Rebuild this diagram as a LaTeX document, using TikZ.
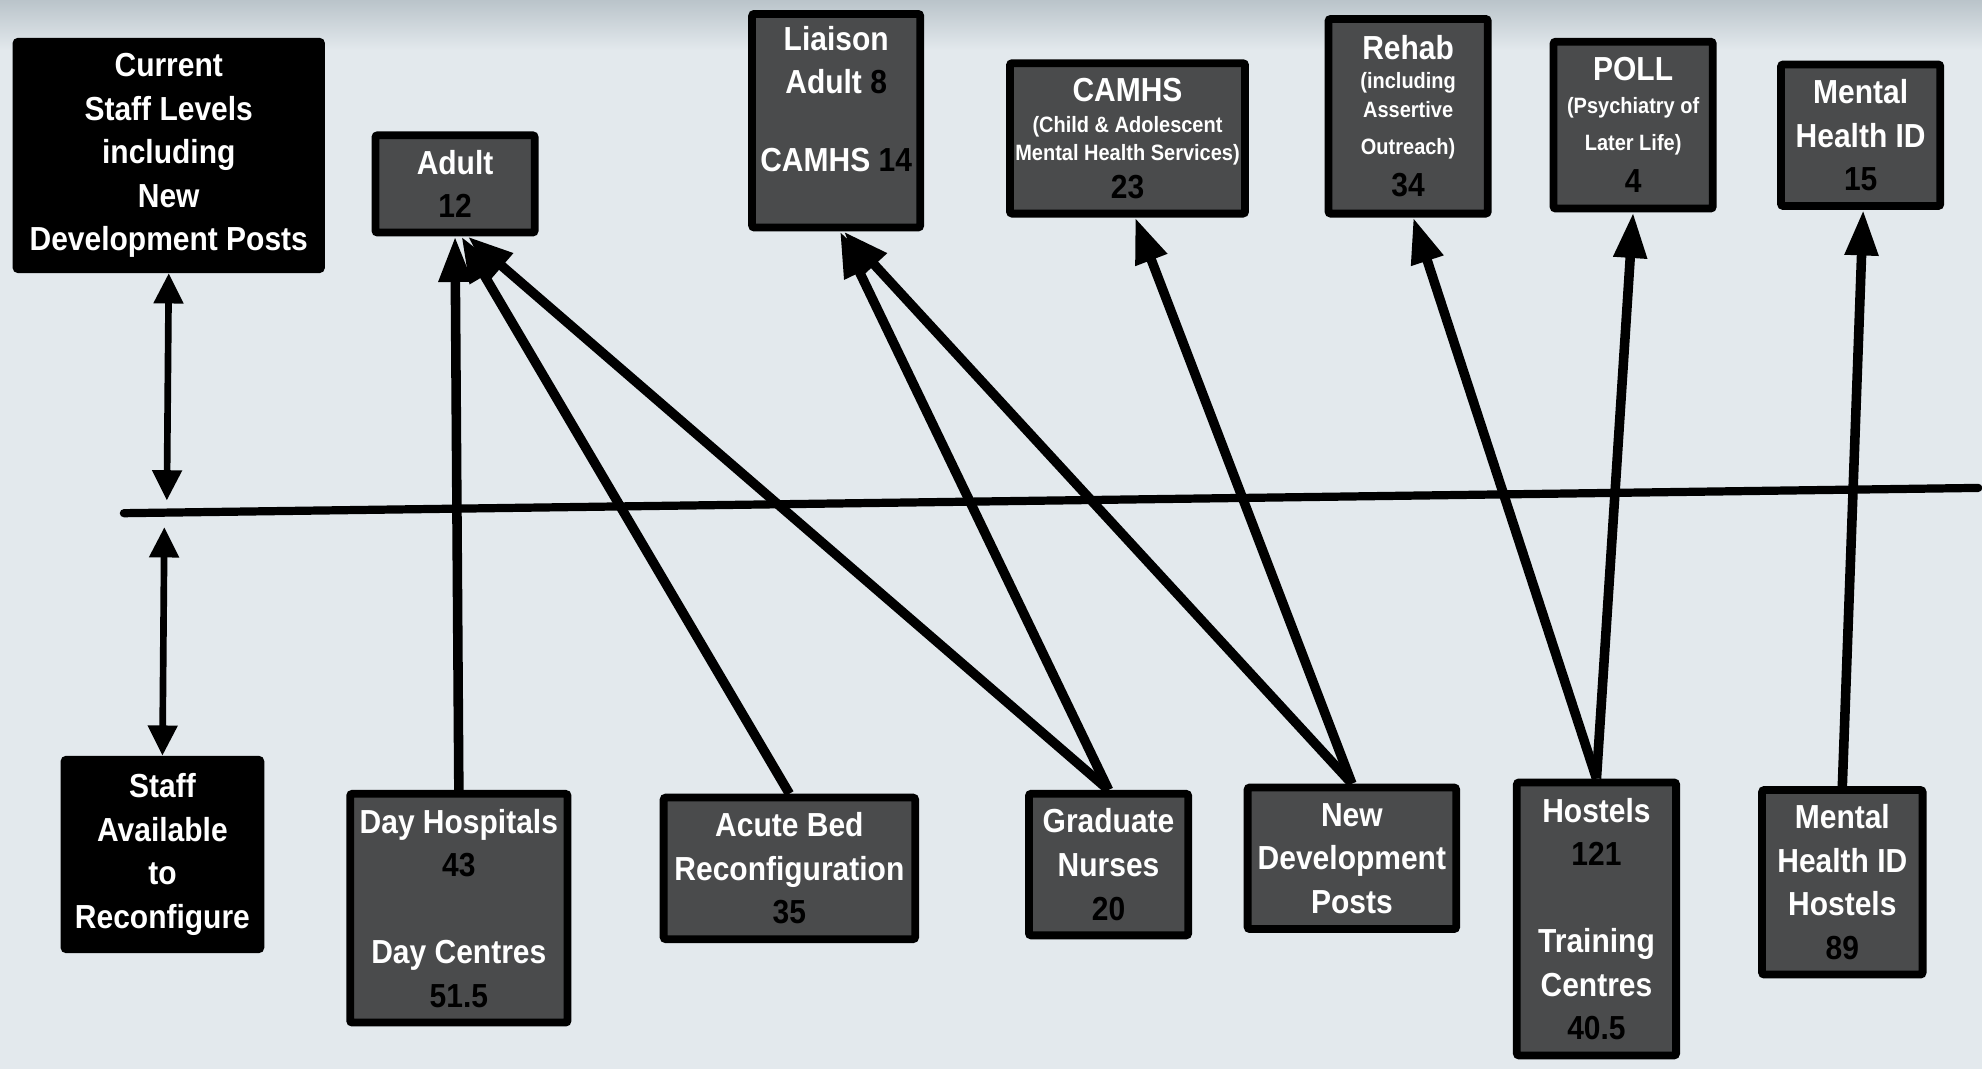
\documentclass[tikz,border=0pt]{standalone}
\usepackage{fontspec}
\setmainfont{Liberation Sans}[FakeStretch=0.9]
\usetikzlibrary{arrows.meta}
\definecolor{slidebg}{RGB}{227,233,237}
\definecolor{slidetop}{RGB}{186,196,202}
\definecolor{boxgrey}{RGB}{74,75,76}
\newcommand\bigtxt{\fontsize{15}{19.6}\selectfont\bfseries}
\newcommand\smalltxt{\fontsize{10}{12.5}\selectfont\bfseries}
\newcommand\staffno[1]{\textcolor{black}{#1}}
\tikzset{
    kbox/.style={draw=black,fill=black,line width=3.5pt,text=white,align=center,
        font=\bigtxt,inner sep=0pt,rounded corners=1pt},
    gbox/.style={kbox,fill=boxgrey},
    boxsize/.style 2 args={minimum width={(#1-6)*0.2mm},minimum height={(#2-6)*0.2mm}},
    divider/.style={draw,line width=3.7pt,line cap=round},
    dbl/.style={draw,line width=3pt,
        {Triangle[length=4.8mm,width=4.5mm]}-{Triangle[length=4.8mm,width=4.5mm]}},
    flow/.style={
        every edge/.style={draw,line width=4.3pt,-{Triangle[length=7.2mm,width=5mm]}},
    }
}

\begin{document}
\begin{tikzpicture}[x=0.2mm,y=-0.2mm]
\useasboundingbox (0,0) rectangle (1568,846);
\fill[slidebg] (0,0) rectangle (1568,846);
\shade[top color=slidetop,bottom color=slidebg] (0,0) rectangle (1568,40);
% top row
\node[kbox,boxsize={247}{186}] (cur) at (133.5,123)
    {Current\\Staff Levels\\including\\New\\Development Posts};
\node[gbox,boxsize={132}{83}] (adult) at (360,145.5) {Adult\\\staffno{12}};
\node[gbox,boxsize={139}{175}] (liaison) at (661.5,95.5)
    {Liaison\\Adult \staffno{8}\\[15.4pt]CAMHS \staffno{14}\\\mbox{}};
\node[gbox,boxsize={192}{125}] (camhs) at (892,109.5)
    {CAMHS\\[-5.5pt]{\smalltxt (Child \& Adolescent}\\[-7.1pt]
     {\smalltxt Mental Health Services)}\\[-2.5pt]\staffno{23}};
\node[gbox,boxsize={132}{160}] (rehab) at (1114,92)
    {Rehab\\[-6.7pt]{\smalltxt (including}\\[-6.6pt]{\smalltxt Assertive}\\[-2.6pt]
     {\smalltxt Outreach)}\\[-0.8pt]\staffno{34}};
\node[gbox,boxsize={132}{138}] (poll) at (1292,99)
    {POLL\\[-5pt]{\smalltxt (Psychiatry of}\\[-2.6pt]{\smalltxt Later Life)}\\[-0.8pt]\staffno{4}};
\node[gbox,boxsize={132}{118}] (mhid) at (1472,107) {Mental\\Health ID\\\staffno{15}};
% bottom row
\node[kbox,boxsize={161}{156}] (avail) at (128.5,676) {Staff\\Available\\to\\Reconfigure};
\node[gbox,boxsize={178}{187}] (dayhosp) at (363,718.5)
    {Day Hospitals\\\staffno{43}\\[19.5pt]Day Centres\\\staffno{51.5}};
\node[gbox,boxsize={205}{118}] (acute) at (624.5,687)
    {Acute Bed\\Reconfiguration\\\staffno{35}};
\node[gbox,boxsize={132}{118}] (grad) at (877,684) {Graduate\\Nurses\\\staffno{20}};
\node[gbox,boxsize={171}{118}] (newdev) at (1069.5,679) {New\\Development\\Posts};
\node[gbox,boxsize={132}{222}] (hostels) at (1263,727)
    {Hostels\\\staffno{121}\\[19.5pt]Training\\Centres\\\staffno{40.5}};
\node[gbox,boxsize={133}{152}] (mhhost) at (1457.5,698)
    {Mental\\Health ID\\Hostels\\\staffno{89}};
% dividing line
\coordinate (divl) at (98,406);
\coordinate (divr) at (1565,386);
\coordinate (upmid) at (132,396);
\coordinate (lowmid) at (130,417);
\draw[divider] (divl) -- (divr);
\draw[dbl] (cur.south) -- (upmid);
\draw[dbl] (lowmid) -- (avail.north);
\path[flow]
    (dayhosp.north) edge (adult.south)
    (acute.north) edge ([xshift=1mm]adult.south)
    (grad.north) edge ([xshift=2mm]adult.south)
    (grad.north) edge ([xshift=0.6mm]liaison.south)
    (newdev.north) edge ([xshift=1.2mm]liaison.south)
    (newdev.north) edge ([xshift=1.2mm]camhs.south)
    (hostels.north) edge ([xshift=0.8mm]rehab.south)
    (hostels.north) edge (poll.south)
    (mhhost.north) edge ([xshift=0.4mm]mhid.south)
;
\end{tikzpicture}
\end{document}
